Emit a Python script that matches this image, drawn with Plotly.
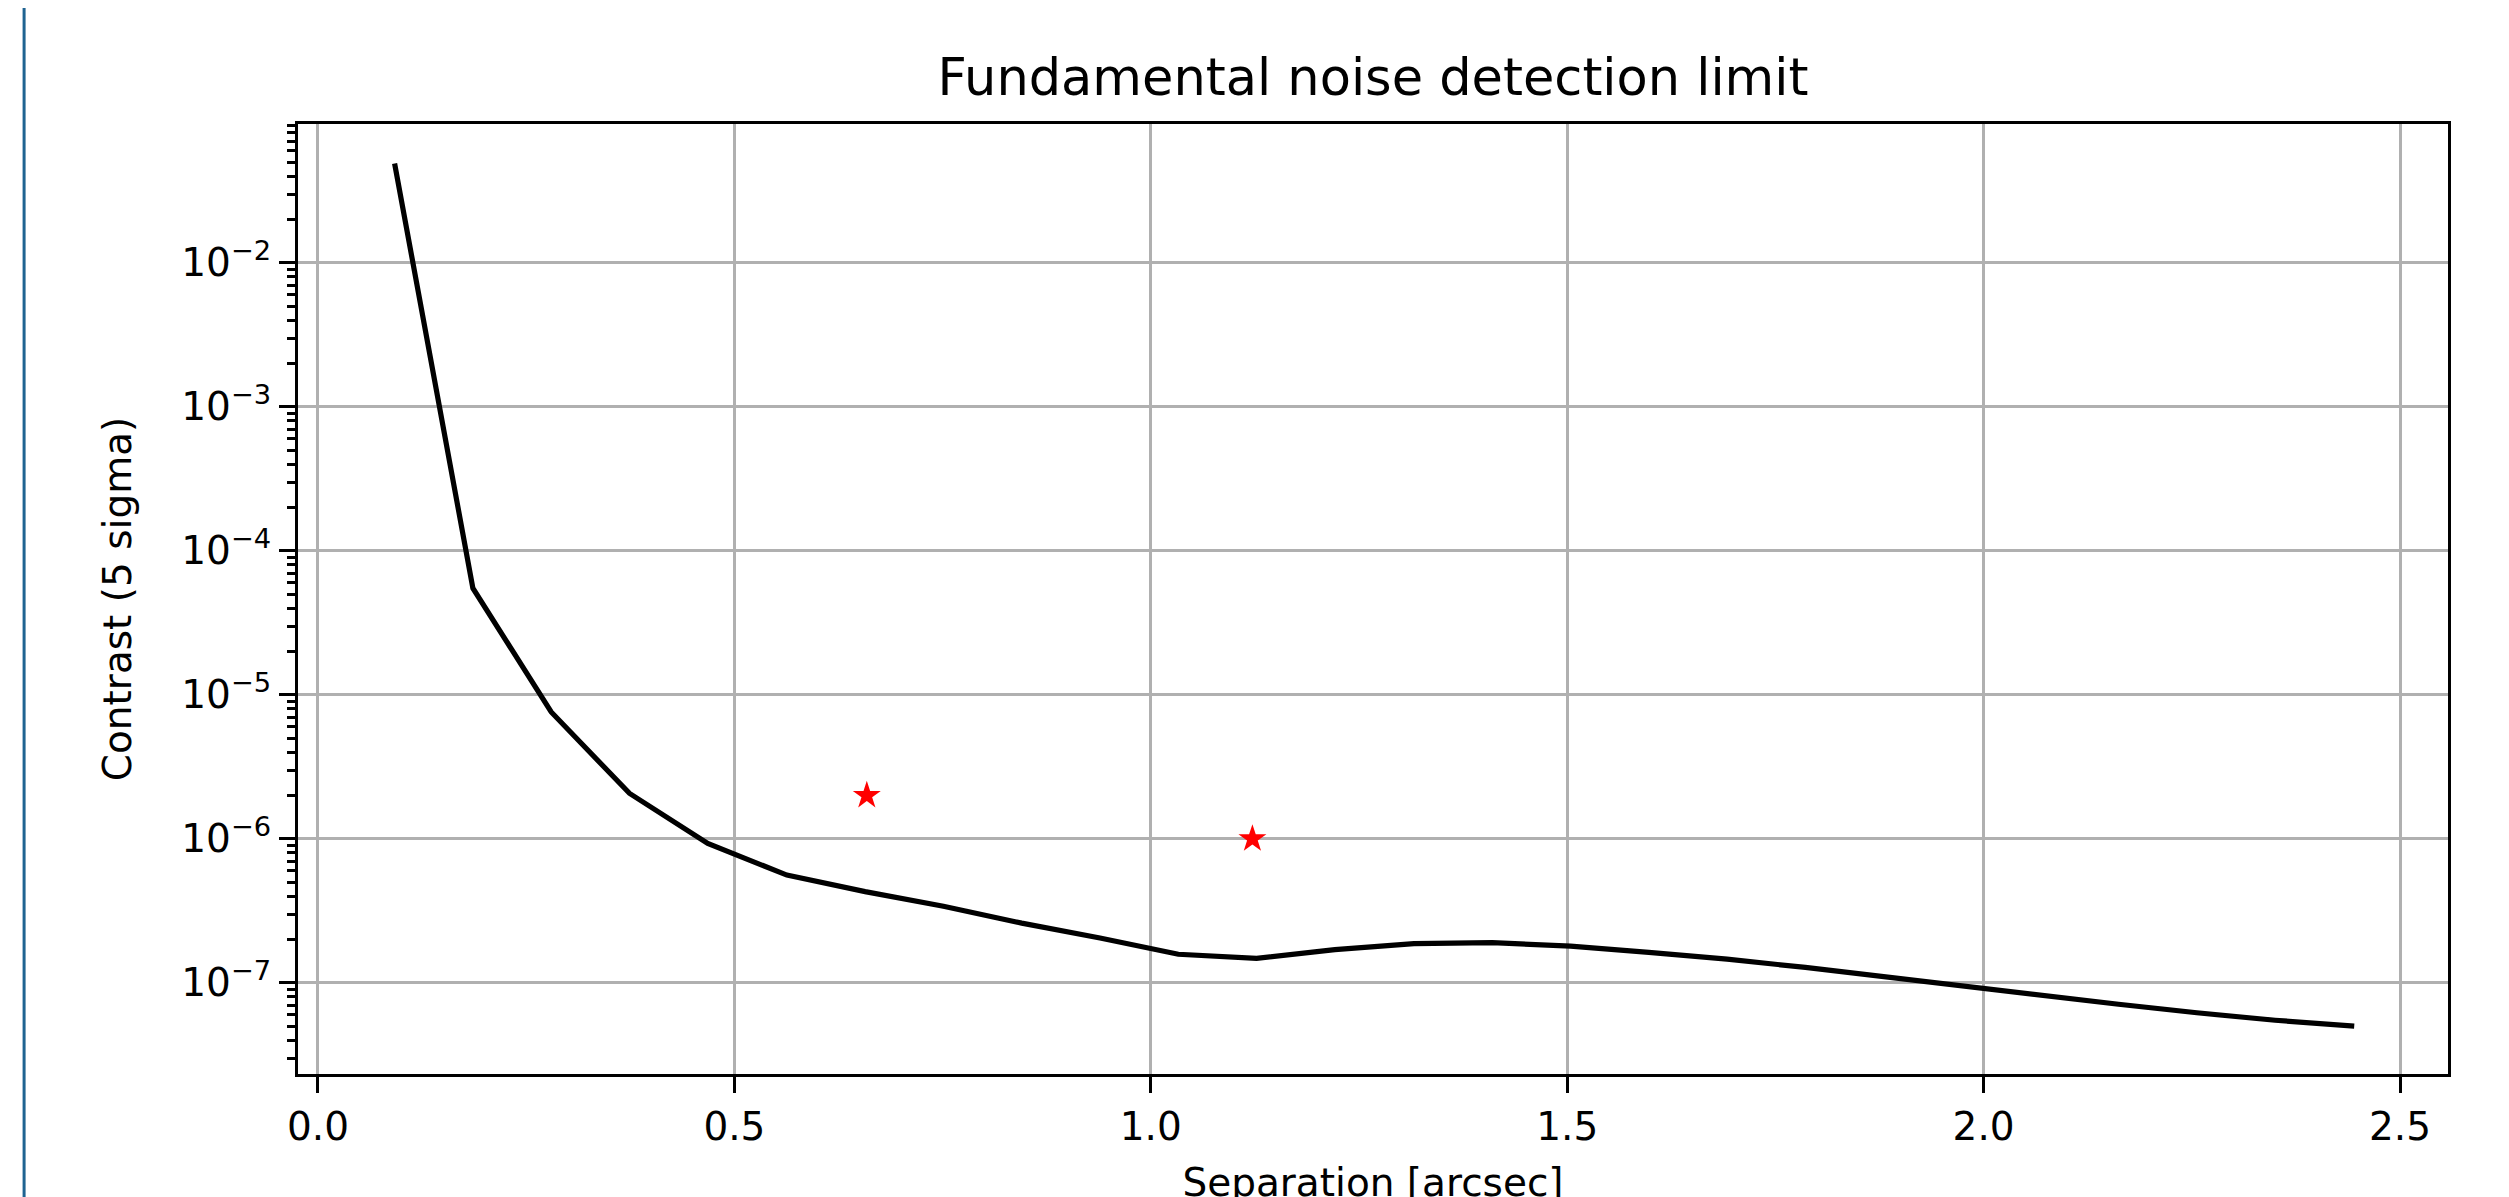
import plotly.graph_objects as go

# Data
separation = [0.092, 0.186, 0.280, 0.374, 0.468, 0.563, 0.657, 0.751, 0.845, 0.939,
              1.033, 1.127, 1.221, 1.316, 1.410, 1.504, 1.598, 1.692, 1.786, 1.880,
              1.974, 2.068, 2.162, 2.256, 2.350, 2.445]
contrast = [4.9e-2, 5.5e-5, 7.6e-6, 2.07e-6, 9.3e-7, 5.6e-7, 4.3e-7, 3.4e-7, 2.6e-7, 2.05e-7,
            1.58e-7, 1.48e-7, 1.70e-7, 1.87e-7, 1.90e-7, 1.80e-7, 1.63e-7, 1.46e-7, 1.28e-7, 1.10e-7,
            9.6e-8, 8.2e-8, 7.1e-8, 6.2e-8, 5.5e-8, 5.0e-8]

planet_sep = [0.659, 1.122]
planet_contrast = [2.0e-6, 1.0e-6]

x_tickvals = [0.0, 0.5, 1.0, 1.5, 2.0, 2.5]
x_ticktext = ["0.0", "0.5", "1.0", "1.5", "2.0", "2.5"]
y_exponents = [-2, -3, -4, -5, -6, -7]
y_tickvals = [10.0 ** e for e in y_exponents]
y_ticktext = ["10<sup>\u2212%d</sup>" % (-e) for e in y_exponents]
minor_mult = [2, 3, 4, 5, 6, 7, 8, 9]
minor_decades = [-8, -7, -6, -5, -4, -3, -2]
y_minor = [m * 10.0 ** d for d in minor_decades for m in minor_mult]

FONT = "DejaVu Sans"
FIG_W, FIG_H = 2509, 1197

fig = go.Figure()
fig.add_trace(go.Scatter(x=separation, y=contrast, mode="lines",
                         line=dict(color="black", width=5.2), showlegend=False))
fig.add_trace(go.Scatter(x=planet_sep, y=planet_contrast, mode="markers",
                         marker=dict(symbol="star", color="red", size=21, line=dict(width=0)),
                         showlegend=False))

fig.update_layout(
    width=FIG_W, height=FIG_H,
    margin=dict(l=290, r=69, t=116, b=131),
    paper_bgcolor="white", plot_bgcolor="white",
    font=dict(family=FONT, size=39, color="black"),
    title=dict(text="Fundamental noise detection limit", x=0.5, xref="paper",
               xanchor="center", y=1 - 69 / FIG_H, yref="container", yanchor="middle",
               font=dict(family=FONT, size=51, color="black")),
    shapes=[dict(type="line", xref="paper", yref="paper", x0=-0.1274, x1=-0.1274,
                 y0=-0.2, y1=1.2, line=dict(color="#1f6391", width=3))],
)

fig.update_xaxes(
    automargin=False,
    range=[-0.024, 2.5576], tickvals=x_tickvals, ticktext=x_ticktext,
    showgrid=True, gridcolor="#b0b0b0", gridwidth=3,
    showline=True, linecolor="black", linewidth=3, mirror=True,
    ticks="outside", ticklen=16, tickwidth=3, tickcolor="black",
    zeroline=False,
    tickfont=dict(family=FONT, size=39, color="black"),
    title=dict(text="Separation [arcsec]", standoff=22,
               font=dict(family=FONT, size=39, color="black")),
)
fig.update_yaxes(
    automargin=False,
    type="log", range=[-7.633, -1.036],
    tickvals=y_tickvals, ticktext=y_ticktext,
    showgrid=True, gridcolor="#b0b0b0", gridwidth=3,
    showline=True, linecolor="black", linewidth=3, mirror=True,
    ticks="outside", ticklen=16, tickwidth=3, tickcolor="black",
    zeroline=False,
    minor=dict(tickmode="array", tickvals=y_minor, ticks="outside", ticklen=8,
               tickwidth=2.5, tickcolor="black", showgrid=False),
    tickfont=dict(family=FONT, size=39, color="black"),
    title=dict(text="Contrast (5 sigma)", standoff=38,
               font=dict(family=FONT, size=39, color="black")),
)

fig.write_html("out.html")
